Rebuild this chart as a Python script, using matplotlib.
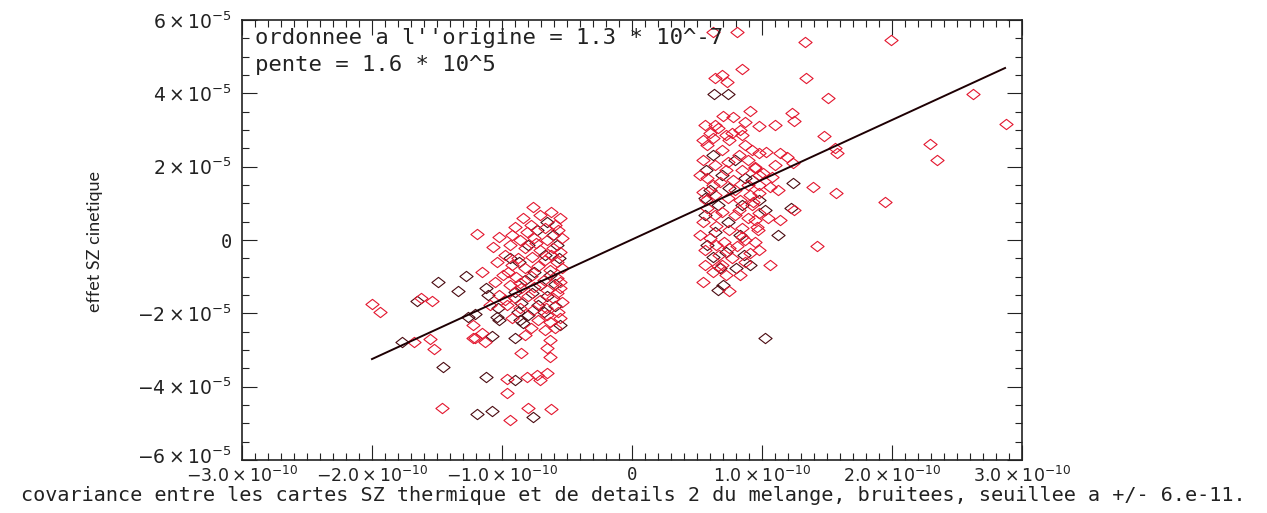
import numpy as np
import matplotlib
matplotlib.use('Agg')
import matplotlib.pyplot as plt
from matplotlib.path import Path
from matplotlib.ticker import FixedLocator, MultipleLocator
from matplotlib.transforms import ScaledTranslation

# covariance (units of 1e-10) and kinetic SZ (units of 1e-5), red points
red_cov = [-2.00, -1.94, -1.68, -1.55, -1.52, -1.46, -1.62, -1.54, -1.22, -1.15,
           -1.19, -1.07, -1.21, -1.13, -0.96, -0.96, -0.85, -0.76, -0.84, -0.90,
           -1.02, -0.92, -0.59, -0.94, -0.80, -0.62, -0.81, -0.73, -0.71, -0.65,
           -0.63, -0.59, -0.65, -0.63, -0.82, -1.15, -1.22,
           -0.71, -0.62, -0.55, -0.78, -0.67, -0.57, -0.86, -0.75, -0.65, -0.54,
           -0.94, -0.82, -0.71, -0.61, -0.55, -0.98, -0.88, -0.77, -0.67, -0.58,
           -0.92, -0.82, -0.72, -0.63, -0.54, -0.99, -0.89, -0.78, -0.68, -0.58,
           -0.94, -0.85, -0.75, -0.65, -0.55, -1.02, -0.90, -0.80, -0.71, -0.61,
           -0.54, -0.96, -0.86, -0.76, -0.66, -0.57, -0.92, -0.72, -0.63, -0.55,
           -0.78, -0.67, -0.98, -1.05, -1.04, -0.95, -0.62, -0.74, -0.86, -0.58,
           -0.81, -0.55, -0.65, -1.09,
           0.62, 0.81, 1.33, 1.99, 0.85, 0.64, 0.69, 0.73, 1.34, 1.51,
           0.91, 0.70, 0.78, 1.23, 1.25, 0.87, 0.98, 1.10, 1.48, 1.56,
           1.58, 2.29, 2.35, 2.62, 2.88, 1.39, 1.57, 1.95, 1.42, 1.10,
           1.24, 0.95, 1.06, 0.66, 0.75, 0.60, 0.77, 0.85, 0.64, 0.98,
           1.03, 1.14, 1.19, 0.95, 1.01, 1.08, 1.06, 1.12, 0.98, 0.93,
           1.14, 1.05, 0.98, 0.96, 0.98, 0.85, 0.91, 1.25,
           0.56, 0.66, 0.75, 0.87, 0.58, 0.69, 0.82, 0.92, 0.55, 0.64,
           0.74, 0.85, 0.95, 0.58, 0.68, 0.78, 0.89, 0.55, 0.64, 0.74,
           0.83, 0.92, 0.58, 0.69, 0.79, 0.89, 0.55, 0.65, 0.75, 0.85,
           0.60, 0.71, 0.81, 0.56, 0.67, 0.77, 0.87, 0.62, 0.72, 0.55,
           0.83, 0.98, 0.95, 0.72, 0.62, 0.83, 0.89, 0.98, 0.57, 0.79,
           0.52, 0.52, 0.64, 0.75, 0.56, 0.69, 0.87, 0.97, 0.62, 0.72,
           0.82, 0.91, 0.55, 0.65]
red_szk = [-1.75, -1.96, -2.78, -2.70, -2.97, -4.58, -1.58, -1.66, -2.32, -2.54,
           0.16, -0.19, -2.67, -2.78, -3.79, -4.17, -3.08, 0.90, 0.60, 0.35,
           0.08, 0.14, 0.41, -4.91, -4.58, -4.61, -3.74, -3.68, -3.82, -3.63,
           -3.19, -2.40, -2.95, -2.73, -2.59, -0.87, -2.67,
           0.68, 0.76, 0.60, 0.41, 0.33, 0.27, 0.00, 0.05, 0.00, 0.05,
           -0.14, -0.22, -0.27, -0.22, -0.33, -0.41, -0.49, -0.46, -0.55, -0.60,
           -0.68, -0.76, -0.71, -0.82, -0.76, -0.95, -1.01, -0.98, -1.09, -1.04,
           -1.23, -1.31, -1.28, -1.36, -1.31, -1.50, -1.58, -1.53, -1.64, -1.58,
           -1.69, -1.77, -1.85, -1.91, -1.85, -1.96, -2.13, -2.18, -2.24, -2.13,
           -2.40, -2.45, -1.64, -1.15, -0.60, -0.87, -0.41, -0.08, -1.17, -1.45,
           0.22, -1.15, -2.05, -1.77,
           5.67, 5.67, 5.40, 5.45, 4.66, 4.42, 4.50, 4.31, 4.42, 3.87,
           3.52, 3.38, 3.35, 3.46, 3.25, 3.22, 3.11, 3.14, 2.84, 2.51,
           2.37, 2.62, 2.18, 3.98, 3.16, 1.45, 1.28, 1.04, -0.16, 2.05,
           2.10, -0.05, -0.68, -0.71, -1.39, 2.92, 2.92, 2.86, 3.14, 2.37,
           2.40, 2.37, 2.26, 1.99, 1.83, 1.72, 1.45, 1.36, 1.28, 1.04,
           0.55, 0.60, 0.74, 0.35, -0.27, 0.08, -0.35, 0.82,
           3.14, 3.05, 2.73, 2.59, 2.59, 2.45, 2.32, 2.45, 2.18, 2.05,
           2.13, 1.91, 1.96, 1.69, 1.58, 1.64, 1.50, 1.31, 1.23, 1.15,
           1.09, 0.95, 0.87, 0.76, 0.68, 0.60, 0.49, 0.38, 0.27, 0.33,
           0.05, -0.05, -0.16, -0.27, -0.41, -0.49, -0.60, -0.87, -0.95, -1.15,
           -0.95, 1.50, 0.55, 2.86, 2.78, 3.00, 2.18, 1.77, 1.09, 1.36,
           0.14, 1.77, 0.68, -0.22, -0.68, -0.68, 0.00, 0.27, 1.50, 1.91,
           0.82, 1.23, 2.73, -0.14]

# dark points
dark_cov = [-1.77, -1.45, -1.65, -1.49, -1.34, -1.28, -1.26, -1.19, -1.08, -0.76,
            -1.12, -1.11, -1.04, -1.08, -1.12, -0.90, -0.65, -0.90, -0.86, -0.84,
            -1.02, -1.21,
            -0.73, -0.61, -0.80, -0.67, -0.56, -0.87, -0.75, -0.63, -0.82, -0.71,
            -0.59, -0.90, -0.77, -0.65, -0.85, -0.72, -0.59, -0.80, -0.68, -0.88,
            -0.55, -1.03, -0.94, -0.58,
            0.63, 0.74, 1.24, 1.22, 1.12, 0.91, 0.62, 0.70, 0.66, 1.02,
            0.62, 0.79, 0.57, 0.69, 0.87, 0.60, 0.75, 0.66, 0.85, 0.56,
            0.74, 0.64, 0.83, 0.58, 0.72, 0.86, 0.68, 0.80, 0.98, 0.92,
            1.02, 0.56]
dark_szk = [-2.78, -3.46, -1.66, -1.15, -1.39, -0.98, -2.10, -4.75, -4.66, -4.83,
            -1.31, -1.50, -2.10, -2.62, -3.74, -3.82, 0.49, -2.67, -2.18, -2.26,
            -2.18, -2.02,
            0.27, 0.14, -0.14, -0.41, -0.49, -0.60, -0.87, -0.95, -1.09, -1.23,
            -1.20, -1.42, -1.45, -1.53, -1.72, -1.77, -1.80, -2.05, -1.96, -1.96,
            -2.32, -1.85, -0.49, -0.14,
            3.98, 3.98, 1.55, 0.87, 0.14, -0.68, -0.46, -1.23, -1.36, -2.67,
            2.32, 2.18, 1.91, 1.77, 1.69, 1.36, 1.42, 0.95, 0.95, 0.68,
            0.49, 0.22, 0.14, -0.14, -0.33, -0.41, -0.76, -0.76, 1.09, 1.64,
            0.82, 1.15]

# linear fit
fit_cov = [-2.0, 2.87]
intercept = 1.3e-7
slope = 1.63e5

xticks = [-3e-10, -2e-10, -1e-10, 0, 1e-10, 2e-10, 3e-10]
xlabels = [r'$-3.0\times10^{-10}$', r'$-2.0\times10^{-10}$', r'$-1.0\times10^{-10}$', '0',
           r'$1.0\times10^{-10}$', r'$2.0\times10^{-10}$', r'$3.0\times10^{-10}$']
yticks = [-6e-5, -4e-5, -2e-5, 0, 2e-5, 4e-5, 6e-5]
ylabels = [r'$-6\times10^{-5}$', r'$-4\times10^{-5}$', r'$-2\times10^{-5}$', '0',
           r'$2\times10^{-5}$', r'$4\times10^{-5}$', r'$6\times10^{-5}$']

plt.rcParams['font.family'] = ['DejaVu Sans Mono', 'DejaVu Sans']
plt.rcParams['mathtext.fontset'] = 'dejavusans'

fig = plt.figure(figsize=(12.67, 5.13), dpi=100)
ax = fig.add_axes([0.191, 0.1033, 0.6156, 0.8577])

diamond = Path([(-1, 0), (0, 0.78), (1, 0), (0, -0.78), (-1, 0)],
               [Path.MOVETO, Path.LINETO, Path.LINETO, Path.LINETO, Path.CLOSEPOLY])

ax.plot(np.array(dark_cov) * 1e-10, np.array(dark_szk) * 1e-5, ls='none', marker=diamond,
        ms=9.5, mfc='none', mec='#4a0a10', mew=0.8)
ax.plot(np.array(red_cov) * 1e-10, np.array(red_szk) * 1e-5, ls='none', marker=diamond,
        ms=9.5, mfc='none', mec='#e3162e', mew=0.8)

fx = np.array(fit_cov) * 1e-10
ax.plot(fx, intercept + slope * fx, color='#1e0003', lw=1.4)

ax.set_xlim(-3e-10, 3e-10)
ax.set_ylim(-6e-5, 6e-5)
ax.xaxis.set_major_locator(FixedLocator(xticks))
ax.set_xticklabels(xlabels)
ax.yaxis.set_major_locator(FixedLocator(yticks))
ax.set_yticklabels(ylabels)
ax.xaxis.set_minor_locator(MultipleLocator(1e-11))
ax.yaxis.set_minor_locator(MultipleLocator(5e-6))
ax.tick_params(which='both', direction='in', top=True, right=True, width=0.8, colors='#222222')
ax.tick_params(which='major', length=10.5)
ax.tick_params(which='minor', length=5)
ax.tick_params(axis='x', pad=4, labelsize=12.5)
ax.tick_params(axis='y', pad=7, labelsize=13.5)
for s in ax.spines.values():
    s.set_linewidth(1.2)
    s.set_color('#222222')

# lowest y label sits a little above its tick, as in the original
low = ax.yaxis.get_major_ticks()[0].label1
low.set_transform(low.get_transform() + ScaledTranslation(0, 5 / 100, fig.dpi_scale_trans))

ax.text(0.017, 0.958, "ordonnee a l''origine = 1.3 * 10^-7", transform=ax.transAxes,
        fontsize=16, va='center', ha='left', color='#222222')
ax.text(0.017, 0.897, "pente = 1.6 * 10^5", transform=ax.transAxes,
        fontsize=16, va='center', ha='left', color='#222222')

fig.text(0.5, 0.034, 'covariance entre les cartes SZ thermique et de details 2 du melange, '
         'bruitees, seuillee a +/- 6.e-11.', ha='center', va='center', fontsize=14.5,
         color='#222222')
fig.text(95 / 1267, 1 - 242 / 513, 'effet SZ cinetique', rotation=90, ha='center',
         va='center', fontsize=13, color='#222222', family=['Lato', 'DejaVu Sans'])

fig.savefig('out.png', dpi=100)
